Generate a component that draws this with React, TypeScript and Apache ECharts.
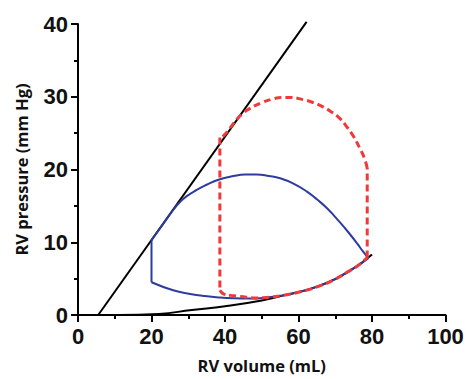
import React, { useEffect, useRef } from "react";
import * as echarts from "echarts";

const xTicks = [0, 20, 40, 60, 80, 100];
const yTicks = [0, 10, 20, 30, 40];

// End-systolic pressure-volume relation (straight line)
const espvr: number[][] = [
  [5.5, 0],
  [62.2, 40.3],
];
// End-diastolic pressure-volume relation
const edpvr: number[][] = [
  [11, 0], [22, 0.15], [31, 0.7], [40, 1.2], [50, 2.0], [56, 2.7], [65, 3.9], [74, 6.1], [80, 8.3],
];

// Blue loop
const blueIso: number[][] = [[20, 4.5], [20, 10.3]];
const blueEject: number[][] = [
  [20, 10.3], [22, 11.7], [24, 13.1], [26, 14.5], [27.5, 15.4], [29.5, 16.3], [32.3, 17.2],
  [35, 17.9], [38.2, 18.6], [42.3, 19.1], [45.5, 19.3], [48.6, 19.3], [52, 19.1], [55, 18.8],
  [58.5, 18.1], [62.2, 17.0], [65, 15.9], [67.7, 14.7], [71, 12.9], [74, 11.1], [76, 9.8],
  [77.6, 8.7], [79, 7.8],
];
const blueFill: number[][] = [
  [20, 4.5], [25.9, 3.4], [30.5, 2.9], [34.5, 2.6], [38.6, 2.4], [42.5, 2.3], [46.8, 2.27],
  [51.3, 2.4], [55.9, 2.7], [60.5, 3.2], [65, 3.86], [69.5, 4.8], [74, 6.1], [76.5, 6.9], [79, 7.8],
];

// Red dashed loop
const redIsoLeft: number[][] = [[38.6, 24.4], [38.6, 3.4]];
const redFill: number[][] = [
  [38.6, 3.4], [39.6, 2.9], [41.5, 2.7], [43.2, 2.6], [45.8, 2.45], [48.6, 2.35], [51.3, 2.4],
  [55.9, 2.7], [60.5, 3.2], [65, 3.86], [69.5, 4.8], [74, 6.1], [76.5, 6.9], [78.7, 7.9],
];
const redIsoRight: number[][] = [[78.7, 7.9], [78.7, 20.2]];
const redEject: number[][] = [
  [78.7, 20.2], [77.9, 21.6], [76.7, 22.9], [74.9, 24.6], [73.1, 25.9], [71.3, 27.0], [69, 27.9],
  [66.7, 28.6], [64, 29.2], [61.3, 29.6], [57.7, 29.9], [55.3, 29.9], [53.1, 29.7], [50, 29.2],
  [46.8, 28.4], [44.8, 27.7], [43.2, 26.9], [41.2, 25.6], [39.5, 24.6], [38.6, 24.4],
];

const BLUE = "#2e3c9e";
const RED = "#f03a3a";
const tickFont = { fontFamily: "Liberation Sans, Arial, sans-serif", fontWeight: "bold" as const, fontSize: 22, color: "#111" };
const nameFont = { fontFamily: "Open Sans, sans-serif", fontWeight: "bold" as const, fontSize: 16.5, color: "#111" };

export default function App() {
  const ref = useRef<HTMLDivElement>(null);
  useEffect(() => {
    if (!ref.current) return;
    const chart = echarts.init(ref.current, null, { renderer: "svg" });
    const axisCommon = {
      type: "value" as const,
      axisLine: { show: true, lineStyle: { color: "#000", width: 2 } },
      axisTick: { show: true, length: 7, lineStyle: { color: "#000", width: 2 } },
      minorTick: { show: true, splitNumber: 2, length: 4, lineStyle: { color: "#000", width: 2 } },
      splitLine: { show: false },
      nameLocation: "middle" as const,
      nameTextStyle: nameFont,
    };
    const line = (data: number[][], color: string, width: number, smooth: boolean | number, dashed = false, clip = true) => ({
      type: "line" as const,
      data,
      smooth,
      symbol: "none",
      clip,
      lineStyle: { color, width, type: dashed ? [7, 4] : "solid", cap: "butt" as const },
    });
    chart.setOption({
      animation: false,
      backgroundColor: "#fff",
      grid: { left: 78, right: 22.5, top: 24, bottom: 61 },
      xAxis: {
        ...axisCommon,
        min: 0,
        max: 100,
        interval: 20,
        name: "RV volume (mL)",
        nameGap: 42,
        axisLabel: { ...tickFont, margin: 10, formatter: (v: number) => (xTicks.includes(v) ? String(v) : "") },
      },
      yAxis: {
        ...axisCommon,
        min: 0,
        max: 40,
        interval: 10,
        name: "RV pressure (mm Hg)",
        nameGap: 48,
        axisLabel: { ...tickFont, margin: 10, formatter: (v: number) => (yTicks.includes(v) ? String(v) : "") },
      },
      series: [
        line(espvr, "#000", 2, false, false, false),
        line(edpvr, "#000", 2, true),
        line(blueIso, BLUE, 2, false),
        line(blueEject, BLUE, 2, true),
        line(blueFill, BLUE, 2, true),
        line(redIsoLeft, RED, 3, false, true),
        line(redFill, RED, 3, true, true),
        line(redIsoRight, RED, 3, false, true),
        line(redEject, RED, 3, true, true),
      ],
    });
    return () => chart.dispose();
  }, []);
  return <div ref={ref} style={{ position: "fixed", left: 0, top: 0, width: 468, height: 379 }} />;
}
